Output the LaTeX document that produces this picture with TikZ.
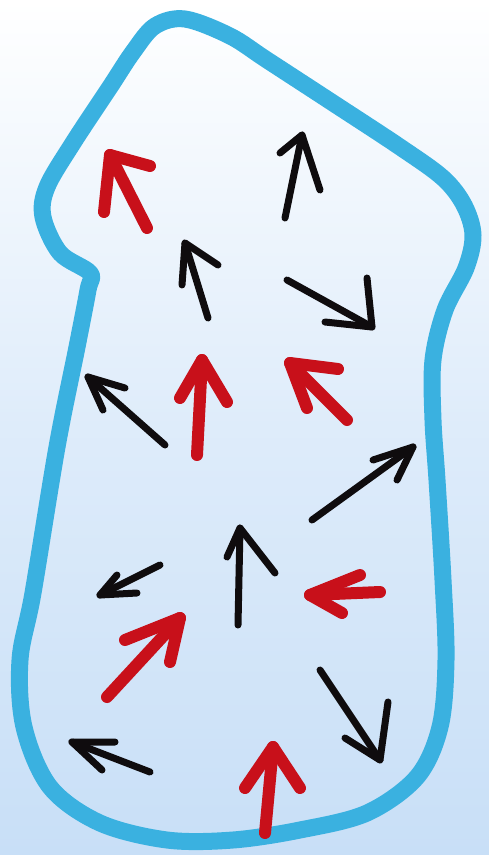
\documentclass[tikz,border=0pt]{standalone}
\definecolor{outline}{RGB}{58,177,224}
\definecolor{pen}{RGB}{15,12,14}
\definecolor{redpen}{RGB}{200,16,26}
\definecolor{bgbot}{RGB}{200,223,247}
\tikzset{
  blk/.style={draw=pen, line width=7pt, line cap=round, line join=round},
  rd/.style={draw=redpen, line width=12pt, line cap=round, line join=round},
}
\newcommand{\handarrow}[5]{% style, tail, tip, arm1, arm2
  \draw[#1] #2 -- #3;
  \draw[#1] #4 -- #3 -- #5;
}
\begin{document}
\begin{tikzpicture}[x=1pt,y=-1pt]
\useasboundingbox (0,0) rectangle (489,855);
\shade[top color=white, bottom color=bgbot, middle color={white!40!bgbot}] (0,0) rectangle (489,855);
% outline
\draw[outline, line width=17pt, line join=round] plot[smooth cycle, tension=0.55] coordinates {
 (185,19) (230,36) (267,60) (333,103) (400,147) (443,178) (464,205) (473,235) (466,268) (445,310)
 (433,360) (433,420) (437,480) (443,580) (446,660) (440,727) (417,777) (367,813) (300,830)
 (233,840) (167,840) (100,823) (50,787) (24,727) (20,660) (33,593) (57,447) (77,347) (88,290)
 (90,273) (60,253) (43,217) (47,187) (73,143) (110,87) (133,52) (155,26)};
% arrows
\handarrow{rd}{(147,228)}{(110,155)}{(150,166)}{(104,212)}
\handarrow{blk}{(285,218)}{(302,135)}{(280,153)}{(320,190)}
\handarrow{blk}{(208,318)}{(185,243)}{(182,285)}{(218,265)}
\handarrow{blk}{(287,280)}{(372,327)}{(325,322)}{(367,278)}
\handarrow{blk}{(165,445)}{(88,377)}{(125,388)}{(103,410)}
\handarrow{rd}{(197,455)}{(202,360)}{(180,398)}{(227,402)}
\handarrow{rd}{(347,420)}{(290,363)}{(338,369)}{(307,408)}
\handarrow{blk}{(312,520)}{(413,447)}{(373,460)}{(397,480)}
\handarrow{blk}{(238,625)}{(240,528)}{(227,557)}{(275,573)}
\handarrow{blk}{(160,565)}{(100,595)}{(117,575)}{(137,593)}
\handarrow{rd}{(380,592)}{(310,595)}{(360,575)}{(342,613)}
\handarrow{rd}{(107,697)}{(180,618)}{(125,640)}{(170,662)}
\handarrow{blk}{(320,670)}{(380,760)}{(345,738)}{(388,702)}
\handarrow{blk}{(150,772)}{(72,742)}{(115,742)}{(102,770)}
\handarrow{rd}{(265,833)}{(273,747)}{(245,788)}{(300,788)}
\end{tikzpicture}
\end{document}
